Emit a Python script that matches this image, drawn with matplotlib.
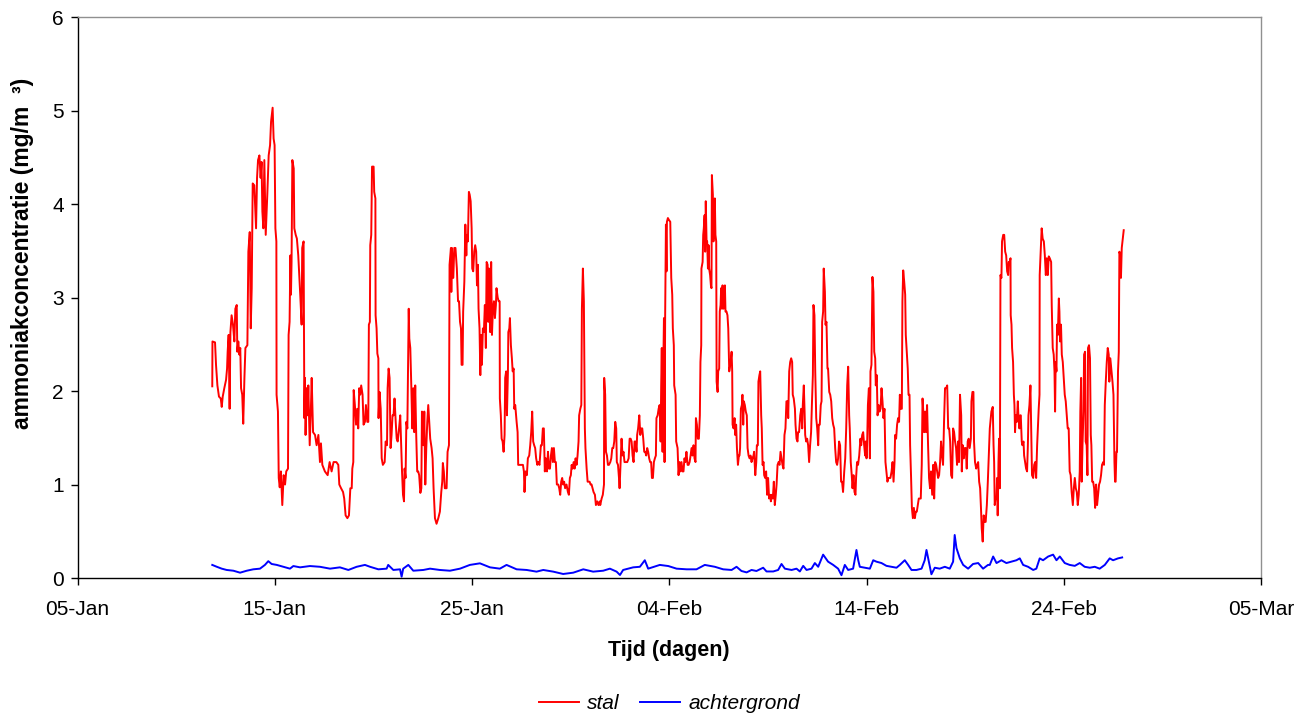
import matplotlib
matplotlib.use("Agg")
import matplotlib.pyplot as plt
import matplotlib.dates as mdates
import numpy as np
import pandas as pd

plt.rcParams['font.family'] = ['Liberation Sans', 'DejaVu Sans']

start = pd.Timestamp('2004-01-05')

# stal: (dagen na 05-Jan, mg/m3)
stal_punten = [
    (6.83, 2.05), (6.84, 2.53), (6.97, 2.52), (7.02, 2.28), (7.09, 2.06), (7.17, 1.94), (7.26, 1.92), (7.31, 1.83),
    (7.36, 1.94), (7.44, 2.03), (7.53, 2.12), (7.58, 2.24), (7.61, 2.42), (7.66, 2.60), (7.71, 1.81), (7.75, 2.63),
    (7.81, 2.81), (7.88, 2.71), (7.95, 2.53), (8.00, 2.88), (8.07, 2.92), (8.10, 2.42), (8.15, 2.53), (8.20, 2.39),
    (8.25, 2.46), (8.29, 2.03), (8.35, 1.96), (8.40, 1.65), (8.46, 2.14), (8.51, 2.46), (8.61, 2.49), (8.66, 3.49),
    (8.73, 3.70), (8.78, 2.67), (8.83, 3.10), (8.88, 4.22), (8.96, 4.20), (9.05, 3.74), (9.10, 4.28), (9.15, 4.47),
    (9.22, 4.52), (9.28, 4.28), (9.33, 4.45), (9.37, 3.92), (9.42, 3.74), (9.47, 4.47), (9.54, 3.67), (9.62, 4.10),
    (9.69, 4.52), (9.76, 4.63), (9.81, 4.88), (9.89, 5.03), (9.94, 4.70), (9.99, 4.63), (10.03, 3.74), (10.08, 3.60),
    (10.09, 1.96), (10.16, 1.78), (10.20, 1.07), (10.25, 0.97), (10.31, 1.14), (10.38, 0.78), (10.45, 1.10),
    (10.52, 1.00), (10.58, 1.14), (10.67, 1.17), (10.70, 2.60), (10.75, 2.74), (10.79, 3.45), (10.82, 3.03),
    (10.85, 3.38), (10.89, 4.47), (10.96, 4.38), (10.99, 3.74), (11.06, 3.67), (11.12, 3.63), (11.19, 3.45),
    (11.29, 3.03), (11.36, 2.71), (11.39, 3.53), (11.46, 3.60), (11.50, 1.71), (11.53, 2.14), (11.56, 1.53),
    (11.61, 2.03), (11.66, 1.74), (11.70, 2.06), (11.77, 1.42), (11.83, 1.81), (11.87, 2.14), (11.94, 1.56),
    (12.04, 1.53), (12.12, 1.42), (12.21, 1.53), (12.29, 1.24), (12.34, 1.44), (12.41, 1.21), (12.54, 1.14),
    (12.68, 1.10), (12.78, 1.24), (12.88, 1.14), (12.98, 1.24), (13.12, 1.24), (13.22, 1.21), (13.27, 1.00),
    (13.36, 0.96), (13.46, 0.92), (13.52, 0.85), (13.59, 0.67), (13.68, 0.64), (13.76, 0.67), (13.83, 0.96),
    (13.90, 0.96), (13.93, 1.17), (13.98, 1.24), (14.00, 2.01), (14.06, 1.85), (14.12, 1.64), (14.18, 1.81),
    (14.23, 1.60), (14.28, 2.03), (14.33, 1.96), (14.38, 2.06), (14.45, 1.96), (14.50, 1.64), (14.57, 1.67),
    (14.62, 1.85), (14.69, 1.67), (14.74, 1.67), (14.77, 2.71), (14.82, 2.74), (14.84, 3.56), (14.89, 3.67),
    (14.93, 4.40), (15.01, 4.40), (15.04, 4.13), (15.10, 4.06), (15.11, 2.81), (15.16, 2.67), (15.20, 2.40),
    (15.25, 2.35), (15.26, 1.71), (15.31, 1.99), (15.37, 1.81), (15.42, 1.28), (15.48, 1.21), (15.57, 1.24),
    (15.62, 1.46), (15.69, 1.42), (15.72, 2.03), (15.77, 2.24), (15.82, 2.14), (15.87, 1.39), (15.92, 1.53),
    (15.97, 1.74), (16.02, 1.74), (16.07, 1.92), (16.13, 1.67), (16.18, 1.49), (16.23, 1.46), (16.30, 1.60),
    (16.36, 1.74), (16.41, 1.42), (16.45, 1.14), (16.50, 0.89), (16.55, 0.82), (16.58, 1.17), (16.63, 1.07),
    (16.67, 1.67), (16.72, 1.60), (16.75, 2.17), (16.79, 2.88), (16.82, 2.56), (16.87, 2.46), (16.92, 2.06),
    (16.97, 1.60), (17.02, 2.03), (17.07, 1.56), (17.12, 2.06), (17.17, 1.53), (17.22, 1.14), (17.27, 1.14),
    (17.32, 1.10), (17.38, 0.91), (17.43, 0.96), (17.46, 1.78), (17.51, 1.60), (17.54, 1.42), (17.58, 1.78),
    (17.63, 1.00), (17.68, 1.39), (17.73, 1.67), (17.78, 1.85), (17.83, 1.67), (17.88, 1.49), (17.95, 1.39),
    (18.00, 1.28), (18.05, 0.96), (18.12, 0.64), (18.20, 0.58), (18.29, 0.64), (18.37, 0.71), (18.44, 0.92),
    (18.49, 1.03), (18.52, 1.23), (18.57, 1.14), (18.62, 0.96), (18.71, 0.96), (18.76, 1.35), (18.83, 1.42),
    (18.86, 3.35), (18.93, 3.53), (18.95, 3.06), (18.98, 3.53), (19.05, 3.21), (19.10, 3.53), (19.16, 3.53),
    (19.23, 3.31), (19.29, 2.96), (19.34, 2.96), (19.39, 2.74), (19.44, 2.67), (19.47, 2.28), (19.52, 2.28),
    (19.55, 2.85), (19.61, 3.17), (19.66, 3.78), (19.71, 3.45), (19.74, 3.67), (19.79, 3.60), (19.84, 4.13),
    (19.88, 4.10), (19.93, 4.03), (19.98, 3.74), (20.01, 3.31), (20.06, 3.28), (20.11, 3.49), (20.16, 3.56),
    (20.21, 3.49), (20.25, 3.13), (20.30, 3.35), (20.33, 2.88), (20.38, 2.67), (20.42, 2.17), (20.45, 2.60),
    (20.50, 2.28), (20.55, 2.67), (20.60, 2.63), (20.65, 2.92), (20.70, 2.46), (20.74, 3.38), (20.79, 3.35),
    (20.82, 2.74), (20.86, 3.31), (20.89, 2.85), (20.92, 2.63), (20.97, 3.38), (21.01, 2.60), (21.06, 2.88),
    (21.11, 2.96), (21.16, 2.78), (21.21, 2.92), (21.24, 3.10), (21.30, 3.00), (21.35, 2.96), (21.40, 2.96),
    (21.41, 1.92), (21.46, 1.74), (21.50, 1.49), (21.55, 1.46), (21.60, 1.35), (21.65, 1.53), (21.68, 2.14),
    (21.73, 2.21), (21.77, 1.74), (21.82, 2.21), (21.84, 2.63), (21.89, 2.67), (21.92, 2.78), (21.97, 2.49),
    (22.02, 2.35), (22.06, 2.21), (22.11, 2.24), (22.14, 1.81), (22.19, 1.85), (22.26, 1.67), (22.31, 1.56),
    (22.34, 1.21), (22.39, 1.21), (22.44, 1.21), (22.51, 1.21), (22.58, 1.21), (22.63, 1.14), (22.66, 0.92),
    (22.71, 1.14), (22.78, 1.10), (22.83, 1.28), (22.90, 1.31), (22.95, 1.42), (23.00, 1.56), (23.05, 1.78),
    (23.10, 1.46), (23.15, 1.42), (23.20, 1.39), (23.25, 1.28), (23.31, 1.21), (23.36, 1.24), (23.42, 1.21),
    (23.49, 1.42), (23.54, 1.42), (23.59, 1.60), (23.64, 1.60), (23.69, 1.14), (23.74, 1.28), (23.80, 1.14),
    (23.85, 1.35), (23.90, 1.17), (23.95, 1.17), (24.00, 1.31), (24.05, 1.39), (24.10, 1.24), (24.15, 1.39),
    (24.20, 1.24), (24.25, 1.24), (24.30, 1.00), (24.37, 1.00), (24.42, 0.96), (24.47, 0.89), (24.52, 1.03),
    (24.57, 1.07), (24.62, 1.00), (24.67, 1.03), (24.72, 0.96), (24.79, 1.00), (24.86, 0.92), (24.91, 0.89),
    (24.96, 1.07), (25.01, 1.10), (25.05, 1.21), (25.10, 1.17), (25.15, 1.24), (25.20, 1.17), (25.25, 1.28),
    (25.30, 1.21), (25.35, 1.31), (25.40, 1.46), (25.43, 1.74), (25.49, 1.81), (25.54, 1.85), (25.57, 2.88),
    (25.62, 3.31), (25.67, 2.96), (25.72, 1.60), (25.75, 1.39), (25.81, 1.17), (25.86, 1.03), (25.91, 1.03),
    (25.96, 1.03), (26.01, 1.00), (26.06, 1.00), (26.11, 0.96), (26.16, 0.92), (26.23, 0.89), (26.28, 0.78),
    (26.35, 0.82), (26.41, 0.78), (26.48, 0.82), (26.50, 0.78), (26.57, 0.85), (26.63, 0.89), (26.69, 1.00),
    (26.70, 2.14), (26.75, 1.96), (26.79, 1.35), (26.84, 1.31), (26.89, 1.21), (26.94, 1.21), (27.01, 1.24),
    (27.06, 1.28), (27.11, 1.39), (27.16, 1.39), (27.21, 1.46), (27.26, 1.67), (27.31, 1.60), (27.34, 1.24),
    (27.40, 1.21), (27.45, 1.07), (27.48, 0.96), (27.53, 1.24), (27.58, 1.49), (27.63, 1.31), (27.68, 1.35),
    (27.73, 1.24), (27.80, 1.24), (27.87, 1.24), (27.94, 1.28), (27.99, 1.49), (28.04, 1.49), (28.09, 1.46),
    (28.14, 1.31), (28.19, 1.24), (28.24, 1.46), (28.29, 1.46), (28.34, 1.35), (28.37, 1.53), (28.42, 1.60),
    (28.48, 1.74), (28.53, 1.53), (28.58, 1.60), (28.63, 1.60), (28.68, 1.49), (28.73, 1.35), (28.78, 1.35),
    (28.83, 1.31), (28.88, 1.39), (28.93, 1.35), (28.98, 1.28), (29.03, 1.24), (29.08, 1.24), (29.12, 1.07),
    (29.17, 1.07), (29.22, 1.24), (29.27, 1.28), (29.32, 1.31), (29.35, 1.71), (29.41, 1.74), (29.46, 1.81),
    (29.51, 1.85), (29.56, 1.46), (29.59, 2.06), (29.62, 2.46), (29.66, 1.35), (29.69, 2.14), (29.73, 2.78),
    (29.76, 1.24), (29.79, 2.78), (29.83, 3.78), (29.86, 3.28), (29.88, 3.81), (29.93, 3.85), (29.98, 3.83),
    (30.05, 3.81), (30.10, 3.21), (30.15, 3.03), (30.18, 2.67), (30.23, 2.49), (30.25, 2.06), (30.32, 1.96),
    (30.35, 1.46), (30.42, 1.39), (30.47, 1.10), (30.52, 1.24), (30.57, 1.14), (30.62, 1.24), (30.67, 1.14),
    (30.72, 1.14), (30.77, 1.28), (30.82, 1.24), (30.87, 1.35), (30.93, 1.21), (30.98, 1.21), (31.03, 1.24),
    (31.08, 1.31), (31.13, 1.39), (31.18, 1.31), (31.23, 1.42), (31.28, 1.28), (31.33, 1.24), (31.35, 1.71),
    (31.40, 1.64), (31.45, 1.49), (31.50, 1.49), (31.55, 1.74), (31.58, 2.31), (31.62, 2.49), (31.63, 3.31),
    (31.69, 3.38), (31.72, 3.67), (31.75, 3.74), (31.79, 3.88), (31.82, 3.49), (31.85, 4.03), (31.89, 3.60),
    (31.92, 3.60), (31.96, 3.31), (31.99, 3.56), (32.02, 3.31), (32.07, 3.24), (32.11, 3.13), (32.14, 3.10),
    (32.16, 4.31), (32.21, 4.10), (32.24, 3.60), (32.28, 3.99), (32.31, 4.06), (32.34, 3.67), (32.38, 3.60),
    (32.40, 2.10), (32.45, 1.99), (32.48, 2.21), (32.53, 2.24), (32.56, 2.85), (32.60, 2.92), (32.63, 3.10),
    (32.67, 2.88), (32.70, 3.13), (32.75, 2.88), (32.78, 3.03), (32.82, 3.13), (32.85, 2.85), (32.90, 2.85),
    (32.95, 2.81), (32.99, 2.67), (33.04, 2.21), (33.11, 2.31), (33.16, 2.42), (33.19, 2.21), (33.21, 1.64),
    (33.26, 1.60), (33.31, 1.71), (33.34, 1.53), (33.39, 1.64), (33.43, 1.39), (33.48, 1.21), (33.53, 1.31),
    (33.56, 1.31), (33.59, 1.39), (33.63, 1.81), (33.68, 1.85), (33.71, 1.96), (33.75, 1.64), (33.78, 1.89),
    (33.83, 1.85), (33.88, 1.78), (33.93, 1.74), (33.97, 1.39), (34.02, 1.31), (34.07, 1.28), (34.12, 1.31),
    (34.17, 1.24), (34.22, 1.28), (34.27, 1.31), (34.30, 1.35), (34.36, 1.10), (34.41, 1.24), (34.44, 1.42),
    (34.49, 1.42), (34.52, 2.10), (34.57, 2.17), (34.61, 2.21), (34.66, 1.74), (34.69, 1.60), (34.73, 1.21),
    (34.78, 1.24), (34.81, 1.10), (34.86, 1.07), (34.91, 1.14), (34.96, 0.89), (35.01, 1.07), (35.06, 0.85),
    (35.12, 0.89), (35.15, 0.82), (35.20, 0.89), (35.25, 0.85), (35.30, 1.03), (35.35, 0.78), (35.40, 0.89),
    (35.44, 1.00), (35.49, 1.21), (35.54, 1.24), (35.59, 1.21), (35.64, 1.35), (35.69, 1.28), (35.74, 1.21),
    (35.79, 1.17), (35.84, 1.53), (35.89, 1.60), (35.94, 1.89), (36.00, 1.89), (36.03, 1.71), (36.08, 2.21),
    (36.13, 2.31), (36.18, 2.35), (36.23, 2.31), (36.26, 1.96), (36.31, 1.92), (36.37, 1.81), (36.40, 1.64),
    (36.45, 1.49), (36.50, 1.46), (36.53, 1.56), (36.58, 1.56), (36.64, 1.74), (36.69, 1.81), (36.74, 1.60),
    (36.77, 1.85), (36.82, 2.06), (36.86, 1.78), (36.89, 1.53), (36.94, 1.46), (36.99, 1.49), (37.04, 1.42),
    (37.09, 1.24), (37.14, 1.42), (37.19, 1.56), (37.23, 1.85), (37.28, 2.17), (37.31, 2.92), (37.36, 2.81),
    (37.40, 2.21), (37.45, 1.71), (37.50, 1.60), (37.55, 1.42), (37.58, 1.64), (37.63, 1.64), (37.68, 1.85),
    (37.72, 1.89), (37.75, 2.74), (37.80, 2.85), (37.83, 3.31), (37.89, 3.06), (37.92, 2.71), (37.97, 2.74),
    (38.02, 2.24), (38.05, 2.24), (38.11, 1.99), (38.16, 1.96), (38.21, 1.89), (38.26, 1.71), (38.31, 1.64),
    (38.36, 1.60), (38.41, 1.39), (38.46, 1.24), (38.51, 1.21), (38.56, 1.28), (38.61, 1.46), (38.66, 1.42),
    (38.71, 1.03), (38.76, 1.03), (38.81, 0.92), (38.87, 1.14), (38.92, 1.28), (38.97, 1.60), (39.02, 2.06),
    (39.07, 2.26), (39.12, 1.74), (39.15, 1.60), (39.20, 1.24), (39.25, 1.10), (39.29, 0.96), (39.34, 1.10),
    (39.39, 0.92), (39.44, 0.89), (39.47, 1.07), (39.52, 1.24), (39.57, 1.21), (39.63, 1.31), (39.69, 1.49),
    (39.73, 1.42), (39.78, 1.53), (39.83, 1.56), (39.88, 1.42), (39.93, 1.31), (39.96, 1.46), (40.00, 1.28),
    (40.03, 1.42), (40.07, 1.85), (40.12, 2.03), (40.17, 1.28), (40.20, 2.21), (40.25, 2.28), (40.30, 3.22),
    (40.35, 3.06), (40.39, 2.42), (40.44, 2.35), (40.47, 2.06), (40.52, 2.17), (40.56, 1.74), (40.61, 1.85),
    (40.66, 1.78), (40.71, 1.81), (40.76, 2.03), (40.81, 1.89), (40.86, 1.71), (40.91, 1.81), (40.96, 1.24),
    (41.01, 1.14), (41.06, 1.03), (41.11, 1.07), (41.16, 1.07), (41.21, 1.07), (41.27, 1.14), (41.32, 1.24),
    (41.37, 1.03), (41.42, 1.24), (41.45, 1.53), (41.50, 1.49), (41.55, 1.64), (41.60, 1.71), (41.65, 1.67),
    (41.69, 1.96), (41.74, 1.81), (41.79, 1.81), (41.82, 2.96), (41.86, 3.29), (41.91, 3.17), (41.96, 3.03),
    (41.99, 2.60), (42.04, 2.42), (42.09, 2.24), (42.13, 1.96), (42.18, 1.96), (42.21, 1.42), (42.26, 1.07),
    (42.30, 0.75), (42.35, 0.64), (42.40, 0.75), (42.45, 0.64), (42.50, 0.71), (42.55, 0.71), (42.60, 0.78),
    (42.65, 0.85), (42.70, 0.85), (42.75, 0.85), (42.80, 1.21), (42.84, 1.92), (42.89, 1.74), (42.92, 1.56),
    (42.97, 1.78), (43.02, 1.56), (43.07, 1.85), (43.12, 1.42), (43.17, 1.07), (43.22, 0.96), (43.27, 1.14),
    (43.33, 0.89), (43.38, 1.21), (43.43, 0.85), (43.48, 1.24), (43.53, 1.21), (43.58, 1.14), (43.63, 1.07),
    (43.68, 1.10), (43.73, 1.24), (43.78, 1.46), (43.83, 1.31), (43.88, 1.21), (43.93, 1.67), (43.98, 2.03),
    (44.04, 2.03), (44.09, 2.06), (44.14, 1.60), (44.19, 1.60), (44.24, 1.46), (44.29, 1.10), (44.34, 1.07),
    (44.39, 1.60), (44.44, 1.56), (44.49, 1.46), (44.54, 1.39), (44.59, 1.21), (44.64, 1.46), (44.69, 1.24),
    (44.74, 1.96), (44.80, 1.74), (44.83, 1.14), (44.88, 1.42), (44.93, 1.28), (44.98, 1.39), (45.03, 1.39),
    (45.08, 1.17), (45.13, 1.46), (45.18, 1.49), (45.23, 1.39), (45.29, 1.49), (45.32, 1.89), (45.37, 1.99),
    (45.42, 1.99), (45.45, 1.46), (45.50, 1.24), (45.56, 1.17), (45.61, 1.21), (45.66, 1.24), (45.71, 1.03),
    (45.76, 0.96), (45.81, 0.71), (45.84, 0.53), (45.89, 0.39), (45.94, 0.67), (45.99, 0.60), (46.04, 0.60),
    (46.10, 0.78), (46.15, 1.03), (46.25, 1.60), (46.28, 1.67), (46.33, 1.78), (46.37, 1.81), (46.40, 1.83),
    (46.44, 1.42), (46.47, 1.24), (46.50, 0.78), (46.54, 0.85), (46.59, 0.85), (46.62, 1.07), (46.65, 0.67),
    (46.69, 1.24), (46.72, 1.49), (46.76, 0.96), (46.79, 3.24), (46.84, 3.21), (46.87, 3.60), (46.93, 3.67),
    (46.98, 3.67), (47.03, 3.49), (47.08, 3.45), (47.13, 3.28), (47.18, 3.24), (47.21, 3.38), (47.26, 3.38),
    (47.30, 3.42), (47.31, 2.81), (47.35, 2.71), (47.38, 2.46), (47.43, 2.31), (47.47, 1.96), (47.50, 1.85),
    (47.53, 1.56), (47.57, 1.74), (47.62, 1.67), (47.67, 1.89), (47.70, 1.74), (47.75, 1.60), (47.79, 1.74),
    (47.82, 1.74), (47.87, 1.46), (47.90, 1.42), (47.96, 1.46), (47.99, 1.31), (48.04, 1.24), (48.09, 1.17),
    (48.14, 1.14), (48.18, 1.42), (48.21, 1.74), (48.26, 1.85), (48.31, 2.06), (48.36, 1.49), (48.39, 1.10),
    (48.45, 1.07), (48.50, 1.21), (48.55, 1.24), (48.60, 1.07), (48.65, 1.42), (48.70, 1.67), (48.73, 1.81),
    (48.77, 1.96), (48.78, 3.24), (48.82, 3.45), (48.85, 3.60), (48.88, 3.74), (48.93, 3.63), (48.99, 3.60),
    (49.04, 3.45), (49.09, 3.24), (49.14, 3.42), (49.19, 3.24), (49.24, 3.44), (49.29, 3.42), (49.36, 3.38),
    (49.39, 2.92), (49.44, 2.46), (49.49, 2.39), (49.53, 2.21), (49.56, 1.78), (49.59, 2.31), (49.63, 2.21),
    (49.66, 2.71), (49.70, 2.60), (49.75, 2.99), (49.78, 2.85), (49.81, 2.53), (49.86, 2.71), (49.90, 2.39),
    (49.95, 2.31), (50.00, 2.14), (50.05, 1.96), (50.10, 1.89), (50.15, 1.74), (50.20, 1.60), (50.25, 1.60),
    (50.30, 1.14), (50.35, 1.10), (50.40, 0.92), (50.46, 0.78), (50.51, 0.96), (50.56, 1.07), (50.61, 0.96),
    (50.66, 0.92), (50.71, 0.78), (50.76, 0.89), (50.81, 1.14), (50.84, 1.78), (50.88, 2.14), (50.91, 1.03),
    (50.95, 1.42), (51.00, 1.78), (51.03, 2.39), (51.08, 2.42), (51.11, 1.46), (51.16, 1.42), (51.20, 1.10),
    (51.23, 2.46), (51.28, 2.49), (51.33, 2.35), (51.37, 1.53), (51.40, 1.42), (51.44, 1.03), (51.49, 1.03),
    (51.54, 0.96), (51.59, 0.75), (51.64, 1.00), (51.69, 0.78), (51.74, 0.89), (51.79, 1.00), (51.84, 1.03),
    (51.89, 1.10), (51.94, 1.21), (52.00, 1.24), (52.04, 1.21), (52.08, 1.85), (52.13, 2.10), (52.18, 2.31),
    (52.23, 2.46), (52.28, 2.39), (52.31, 2.10), (52.36, 2.35), (52.41, 2.24), (52.47, 2.10), (52.52, 1.96),
    (52.57, 1.24), (52.60, 1.03), (52.63, 1.03), (52.67, 1.35), (52.70, 1.35), (52.75, 2.21), (52.79, 2.42),
    (52.82, 3.49), (52.87, 3.45), (52.90, 3.21), (52.94, 3.53), (52.99, 3.63), (53.04, 3.72),
]

# achtergrond: (dagen na 05-Jan, mg/m3)
achtergrond_punten = [
    (6.83, 0.14), (7.06, 0.12), (7.31, 0.10), (7.56, 0.086), (7.90, 0.078), (8.24, 0.057), (8.58, 0.078),
    (8.91, 0.093), (9.25, 0.10), (9.50, 0.14), (9.67, 0.18), (9.84, 0.15), (10.10, 0.14), (10.43, 0.12),
    (10.77, 0.10), (10.94, 0.128), (11.28, 0.114), (11.78, 0.128), (12.29, 0.12), (12.80, 0.10), (13.30, 0.114),
    (13.73, 0.086), (14.15, 0.12), (14.57, 0.14), (14.83, 0.12), (15.25, 0.093), (15.67, 0.10), (15.75, 0.14),
    (16.01, 0.086), (16.35, 0.093), (16.43, 0.014), (16.51, 0.10), (16.77, 0.14), (17.02, 0.078), (17.53, 0.086),
    (17.87, 0.10), (18.37, 0.086), (18.88, 0.078), (19.39, 0.10), (19.89, 0.14), (20.40, 0.157), (20.91, 0.114),
    (21.41, 0.10), (21.75, 0.14), (22.26, 0.093), (22.77, 0.086), (23.27, 0.068), (23.61, 0.086), (24.12, 0.068),
    (24.62, 0.043), (25.13, 0.057), (25.64, 0.093), (26.14, 0.068), (26.65, 0.078), (26.99, 0.10), (27.33, 0.068),
    (27.50, 0.032), (27.66, 0.086), (28.17, 0.114), (28.51, 0.12), (28.76, 0.19), (28.93, 0.10), (29.52, 0.14),
    (29.95, 0.128), (30.37, 0.10), (30.88, 0.093), (31.38, 0.093), (31.80, 0.14), (32.31, 0.12), (32.73, 0.093),
    (33.16, 0.086), (33.41, 0.12), (33.66, 0.075), (33.92, 0.06), (34.17, 0.086), (34.42, 0.075), (34.76, 0.11),
    (34.93, 0.07), (35.27, 0.07), (35.52, 0.086), (35.69, 0.15), (35.86, 0.10), (36.20, 0.086), (36.45, 0.10),
    (36.62, 0.07), (36.79, 0.13), (36.96, 0.086), (37.21, 0.10), (37.38, 0.16), (37.55, 0.12), (37.80, 0.25),
    (38.05, 0.175), (38.31, 0.14), (38.56, 0.10), (38.73, 0.03), (38.90, 0.14), (39.07, 0.086), (39.32, 0.10),
    (39.49, 0.30), (39.58, 0.19), (39.66, 0.12), (39.91, 0.11), (40.17, 0.10), (40.34, 0.19), (40.50, 0.175),
    (40.76, 0.16), (41.01, 0.13), (41.27, 0.12), (41.52, 0.11), (41.69, 0.14), (41.94, 0.19), (42.11, 0.14),
    (42.28, 0.086), (42.53, 0.086), (42.79, 0.10), (42.95, 0.19), (43.04, 0.30), (43.16, 0.175), (43.29, 0.04),
    (43.46, 0.11), (43.71, 0.10), (43.97, 0.12), (44.22, 0.10), (44.39, 0.175), (44.47, 0.46), (44.56, 0.32),
    (44.73, 0.21), (44.90, 0.14), (45.15, 0.10), (45.40, 0.15), (45.66, 0.16), (45.91, 0.10), (46.16, 0.14),
    (46.25, 0.14), (46.42, 0.23), (46.59, 0.16), (46.84, 0.19), (47.09, 0.16), (47.35, 0.175), (47.60, 0.19),
    (47.77, 0.21), (47.94, 0.14), (48.19, 0.12), (48.45, 0.086), (48.61, 0.10), (48.78, 0.21), (48.95, 0.19),
    (49.21, 0.23), (49.46, 0.25), (49.63, 0.19), (49.80, 0.23), (50.05, 0.16), (50.30, 0.14), (50.56, 0.13),
    (50.81, 0.16), (51.06, 0.12), (51.32, 0.11), (51.57, 0.12), (51.82, 0.10), (52.08, 0.14), (52.33, 0.21),
    (52.50, 0.19), (52.75, 0.21), (52.96, 0.22),
]

y_ticks = [0, 1, 2, 3, 4, 5, 6]


def naar_datum(punten):
    dag = np.array([p[0] for p in punten])
    waarde = np.array([p[1] for p in punten])
    return start + pd.to_timedelta(dag, unit='D'), waarde


stal_t, stal_v = naar_datum(stal_punten)
achter_t, achter_v = naar_datum(achtergrond_punten)

fig = plt.figure(figsize=(13.1, 7.15), dpi=100)
ax = fig.add_axes([0.0592, 0.1916, 0.9034, 0.7846])

ax.plot(stal_t, stal_v, color='#ff0000', lw=1.4, label='stal')
ax.plot(achter_t, achter_v, color='#0000ff', lw=1.4, label='achtergrond')

ax.set_xlim(start, start + pd.Timedelta(days=60))
ax.set_ylim(0, 6)
ax.set_xticks(pd.date_range(start, periods=7, freq='10D'))
ax.xaxis.set_major_formatter(mdates.DateFormatter('%d-%b'))
ax.set_yticks(y_ticks)

ax.tick_params(axis='both', labelsize=15, direction='out', length=5, width=1, color='black')
ax.tick_params(axis='x', pad=11)
ax.tick_params(axis='y', pad=5)

for side in ['left', 'bottom']:
    ax.spines[side].set_color('black')
    ax.spines[side].set_linewidth(1)
for side in ['top', 'right']:
    ax.spines[side].set_color('#909090')
    ax.spines[side].set_linewidth(1)

ax.set_xlabel('Tijd (dagen)', fontsize=15.5, fontweight='bold', labelpad=15)
# y-as titel staat in het origineel iets boven het midden
fig.text(0.0168, 0.6455, 'ammoniakconcentratie (mg/m  \u00b3)', rotation=90, ha='center', va='center',
         fontsize=16.5, fontweight='bold')

leg = fig.legend(loc='center', bbox_to_anchor=(0.511, 0.016), ncol=2, frameon=False,
                 prop={'style': 'italic', 'size': 15}, handlelength=1.9, columnspacing=1.0,
                 handletextpad=0.4)

fig.savefig('out.png', dpi=100)
